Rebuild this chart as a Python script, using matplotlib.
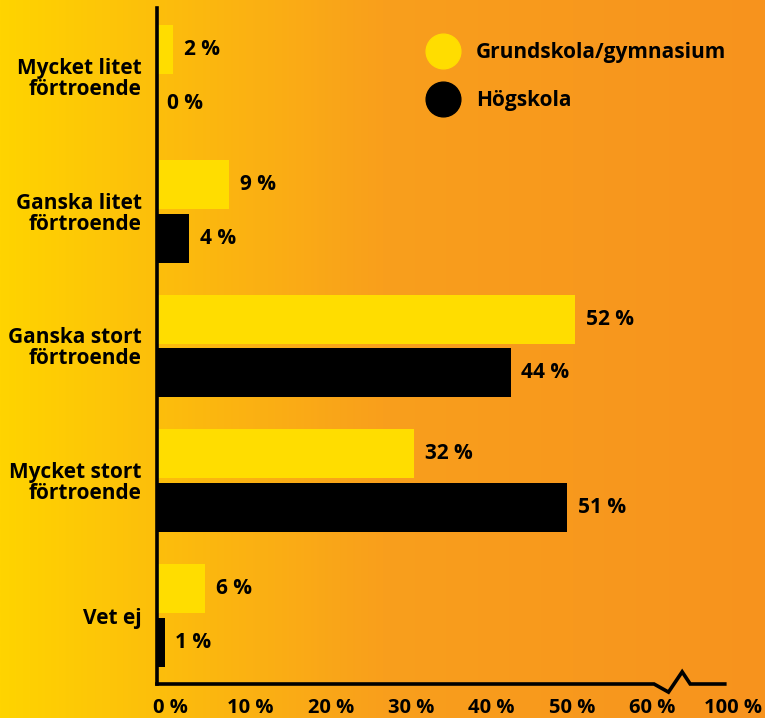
import numpy as np
import matplotlib
matplotlib.use("Agg")
import matplotlib.pyplot as plt
from matplotlib.colors import LinearSegmentedColormap
from matplotlib.lines import Line2D
import matplotlib.transforms as mtransforms

plt.rcParams['font.family'] = ['Open Sans', 'DejaVu Sans']
plt.rcParams['font.weight'] = 'bold'

categories = ["Mycket litet\nförtroende", "Ganska litet\nförtroende", "Ganska stort\nförtroende",
              "Mycket stort\nförtroende", "Vet ej"]
grund = [2, 9, 52, 32, 6]
hogskola = [0, 4, 44, 51, 1]
series_names = ["Grundskola/gymnasium", "Högskola"]
tick_vals = [0, 10, 20, 30, 40, 50, 60, 70]
tick_labels = ["0 %", "10 %", "20 %", "30 %", "40 %", "50 %", "60 %", "100 %"]

yellow = "#FFDD00"
black = "#000000"

fig = plt.figure(figsize=(7.65, 7.18), dpi=100)

# gradient background
bg = fig.add_axes([0, 0, 1, 1], zorder=-10)
cmap = LinearSegmentedColormap.from_list("bg", ["#FFD400", "#F99F1C", "#F7931E"])
bg.imshow(np.linspace(0, 1, 256).reshape(1, -1), aspect='auto', cmap=cmap, extent=[0, 1, 0, 1])
bg.axis('off')

ax = fig.add_axes([157 / 765, 34 / 718, 608 / 765, 676 / 718])
ax.patch.set_alpha(0)

y = np.arange(len(categories))
h = 0.363
ax.barh(y - 0.2, grund, height=h, color=yellow, label=series_names[0])
ax.barh(y + 0.2, hogskola, height=h, color=black, label=series_names[1])

for yi, v in zip(y - 0.2, grund):
    ax.text(v + 1.3, yi, f"{v} %", va='center', ha='left', fontsize=15, fontweight='bold')
for yi, v in zip(y + 0.2, hogskola):
    ax.text(v + 1.3, yi, f"{v} %", va='center', ha='left', fontsize=15, fontweight='bold')

ax.set_xlim(0, 75.6)
ax.set_ylim(4.504, -0.504)

ax.set_yticks(y)
ax.set_yticklabels(categories, fontsize=15, fontweight='bold', linespacing=1.0)
ax.set_xticks(tick_vals)
ax.set_xticklabels(tick_labels, fontsize=14.5, fontweight='bold')
ax.tick_params(axis='y', length=0, pad=11)
ax.tick_params(axis='x', length=0, pad=10)
offset = mtransforms.ScaledTranslation(0.13, 0, fig.dpi_scale_trans)
for lab in ax.get_xticklabels():
    lab.set_transform(lab.get_transform() + offset)

for s in ['top', 'right', 'bottom']:
    ax.spines[s].set_visible(False)
ax.spines['left'].set_linewidth(2.6)

# bottom axis line with break
tr = mtransforms.blended_transform_factory(ax.transData, ax.transAxes)
bx = [0, 61.8, 63.6, 65.3, 66.3, 70.6]
by = [0, 0, -0.012, 0.018, 0, 0]
ax.plot(bx, by, color='black', lw=2.6, transform=tr, clip_on=False, solid_joinstyle='miter')

handles = [Line2D([], [], marker='o', ls='', markersize=25, color=yellow),
           Line2D([], [], marker='o', ls='', markersize=25, color=black)]
leg = ax.legend(handles, series_names, loc='upper left', bbox_to_anchor=(422 / 765, 1 - 42 / 718),
                bbox_transform=fig.transFigure, frameon=False, fontsize=15,
                handletextpad=0.6, labelspacing=1.3, borderaxespad=0, borderpad=0)
for t in leg.get_texts():
    t.set_fontweight('bold')

fig.savefig("out.png", dpi=100)
